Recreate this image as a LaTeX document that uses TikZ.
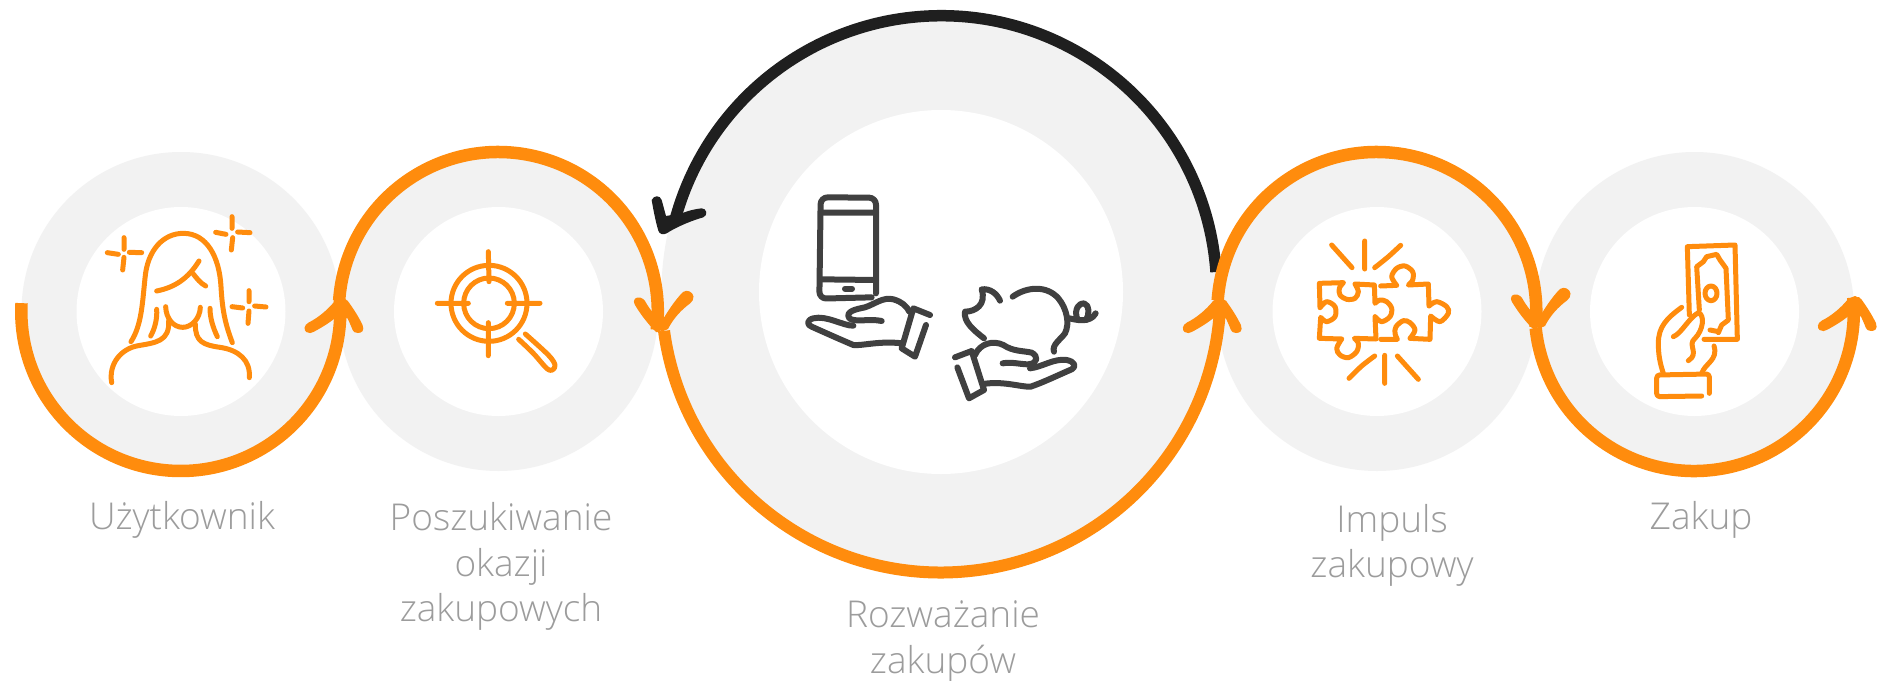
\documentclass[tikz,border=0pt]{standalone}
\usepackage{fontspec}
\setmainfont{Open Sans}[UprightFont=* Light]
\definecolor{orangeC}{HTML}{FF8C0D}
\definecolor{grayC}{HTML}{F2F2F2}
\definecolor{darkC}{HTML}{1F1F1F}
\definecolor{iconC}{HTML}{404040}
\definecolor{textC}{HTML}{9C9C9C}
\tikzset{
  ring/.style={circle,fill=grayC,inner sep=0pt,minimum size=#1},
  hole/.style={circle,fill=white,inner sep=0pt,minimum size=#1},
  arcor/.style={draw=orangeC,line width=12.5pt},
  arcbig/.style={draw=orangeC,line width=12pt},
  arcdark/.style={draw=darkC,line width=11.5pt},
  lab/.style={text=textC,align=center,font=\fontsize{37}{45.5}\selectfont,inner sep=0pt},
  icono/.style={draw=orangeC,line width=5pt,line cap=round,line join=round},
  icond/.style={draw=iconC,line width=6pt,line cap=round,line join=round},
  zoomed/.style={x=0.33333pt,y=-0.33333pt},
  uphead/.pic={
    \fill[orangeC] (0,-2) -- (-6.7,0.7) .. controls (-14,10) and (-24,18) .. (-33,22.5)
      .. controls (-38,25) and (-38,30) .. (-35.5,32)
      .. controls (-33,34) and (-30,33) .. (-27.7,31.7)
      .. controls (-19,27) and (-11,22) .. (-5,16.7) -- (0,18) -- cycle;
    \fill[orangeC] (0,-2) -- (5.9,0.7) .. controls (12,9) and (17,17) .. (20.9,25)
      .. controls (23,31) and (20,33) .. (16,33)
      .. controls (13,33) and (11.5,31.5) .. (10.9,30)
      .. controls (9,25) and (7.5,22) .. (5.9,18.3) -- (0,18) -- cycle;
  },
  downhead/.pic={
    \fill[orangeC] (2,2) -- (-3,2) .. controls (-11,-6) and (-18,-15) .. (-24,-25)
      .. controls (-27,-31) and (-23,-33) .. (-19,-32.5)
      .. controls (-16,-32) and (-15,-30) .. (-14,-29)
      .. controls (-10,-22) and (-7,-18) .. (-3,-14) -- cycle;
    \fill[orangeC] (0,-4) .. controls (7,-16) and (15,-29) .. (24,-38)
      .. controls (28,-41) and (34,-38) .. (34.5,-33.5)
      .. controls (35,-31) and (33,-28) .. (31,-26.5)
      .. controls (22,-20) and (14,-11) .. (9,-1) -- (2,2) -- cycle;
  },
  darkhead/.pic={
    \fill[darkC] (35,60) .. controls (42,45) and (60,45) .. (65,60) -- (78,108) -- (125,100)
      .. controls (145,92) and (165,87) .. (185,85)
      .. controls (200,85) and (205,105) .. (190,112)
      .. controls (160,120) and (110,140) .. (80,160)
      .. controls (70,165) and (58,163) .. (55,152)
      .. controls (47,125) and (40,90) .. (35,60) -- cycle;
  }
}
\newcommand{\sm}[1]{plot[smooth,tension=0.55] coordinates {#1}}
\begin{document}
\begin{tikzpicture}[x=1pt,y=-1pt]
\useasboundingbox (0,0) rectangle (1878,680);
\fill[white] (0,0) rectangle (1878,680);
% rings
\node[ring=319pt] (g1) at (181,311.5) {};
\node[ring=319pt] (g2) at (498.5,311.5) {};
\node[ring=319pt] (g4) at (1377,311.5) {};
\node[ring=319pt] (g5) at (1694.5,311.5) {};
\node[ring=559pt] (g3) at (941,292) {};
\node[hole=209pt] (h1) at (g1) {};
\node[hole=209pt] (h2) at (g2) {};
\node[hole=209pt] (h4) at (g4) {};
\node[hole=209pt] (h5) at (g5) {};
\node[hole=364pt] (h3) at (g3) {};
% dark arc
\coordinate (dstart) at (1216,272);
\coordinate (dhead) at (640,180);
\draw[arcdark] (dstart) arc[start angle=-4,end angle=-165,radius=275.5];
\begin{scope}[shift={(dhead)},zoomed]
\pic at (0,0) {darkhead};
\end{scope}
% big orange arc
\draw[arcbig] (g3.-172.2) arc[start angle=172.2,end angle=1.6,radius=279.5];
% small arcs
\draw[arcor] (g1.177) arc[start angle=183,end angle=-4.2,radius=159.5];
\draw[arcor] (g2.176) arc[start angle=184,end angle=366.6,radius=159.5];
\draw[arcor] (g4.176) arc[start angle=184,end angle=365.7,radius=159.5];
\draw[arcor] (g5.-174) arc[start angle=174,end angle=-5,radius=159.5];
% heads
\coordinate (t1) at (341.7,300);
\coordinate (t2) at (659,330);
\coordinate (t3) at (1220,300);
\coordinate (t4) at (1536,327);
\coordinate (t5) at (1855,298);
\pic at (t1) {uphead};
\pic at (t2) {downhead};
\pic at (t3) {uphead};
\pic at (t4) {downhead};
\pic at (t5) {uphead};
% woman
\begin{scope}[shift={(60,200)},zoomed]
\draw[icono] (213,425) .. controls (245,375) and (247,310) .. (255,235) .. controls (262,150) and (310,100) .. (370,100) .. controls (440,100) and (478,170) .. (483,260) .. controls (487,330) and (495,370) .. (517,428);
\draw[icono] (290,273) .. controls (345,262) and (385,235) .. (417,183);
\draw[icono] (400,222) .. controls (410,235) and (422,250) .. (437,258);
\draw[icono] (290,328) .. controls (292,355) and (285,385) .. (272,408);
\draw[icono] (450,325) .. controls (450,355) and (460,385) .. (472,410);
\draw[icono] (317,320) .. controls (318,355) and (340,382) .. (368,382) .. controls (395,382) and (420,355) .. (421,322);
\draw[icono] (155,548) .. controls (145,490) and (185,445) .. (235,437) .. controls (285,428) and (330,425) .. (326,362);
\draw[icono] (568,533) .. controls (572,480) and (535,450) .. (480,442) .. controls (430,435) and (405,425) .. (406,372);
\draw[icono] (192,113)--(192,148) (192,172)--(188,210) (142,158)--(175,163) (208,157)--(245,158);
\draw[icono] (516,50)--(516,85) (518,113)--(514,150) (467,97)--(498,103) (533,96)--(570,98);
\draw[icono] (567,272)--(567,305) (567,333)--(564,370) (516,320)--(548,324) (584,318)--(618,321);
\end{scope}
% target
\begin{scope}[shift={(420,240)},zoomed]
\draw[icono] (207,190) circle[radius=114];
\draw[icono] (207,190) circle[radius=76];
\draw[icono] (205,35)--(207,125) (205,248)--(205,347) (52,190)--(145,190) (262,190)--(360,190);
\draw[icono] \sm{(296,298)(340,340)(380,385)(397,390)(405,375)(385,345)(316,282)};
\end{scope}
% phone, hands, pig
\begin{scope}[shift={(790,180)},zoomed]
\draw[icond,rounded corners=7pt] (258,340)--(258,53)--(92,52)--(88,356)--(245,352);
\draw[icond] (95,98)--(258,98) (92,298)--(258,300);
\draw[icond] (165,326)--(186,326);
\draw[icond] (275,423) .. controls (240,415) and (195,428) .. (178,415) .. controls (165,395) and (195,388) .. (225,382) .. controls (255,372) and (280,350) .. (310,358) .. controls (335,365) and (350,378) .. (358,395);
\draw[icond] (190,437) .. controls (160,438) and (110,405) .. (70,415) .. controls (50,420) and (50,435) .. (65,440) .. controls (105,458) and (150,478) .. (190,495) .. controls (215,498) and (270,482) .. (335,490);
\draw[icond] (420,405)--(370,385)--(335,505)--(375,530)--(408,435);
\draw[icond] (555,525) .. controls (570,490) and (610,480) .. (640,495) .. controls (670,515) and (700,512) .. (725,518) .. controls (745,528) and (745,550) .. (715,553) .. controls (690,553) and (665,545) .. (638,550);
\draw[icond] (720,565) .. controls (760,560) and (790,535) .. (830,540) .. controls (855,545) and (860,560) .. (845,568) .. controls (805,585) and (765,605) .. (722,620) .. controls (695,622) and (640,602) .. (580,612);
\draw[icond] (495,532)--(545,513)--(582,630)--(537,655)--(502,562);
\draw[icond] (582,475) .. controls (550,450) and (520,425) .. (525,395) .. controls (555,395) and (590,375) .. (575,328) .. controls (600,325) and (620,340) .. (630,362);
\draw[icond] (668,350) .. controls (710,320) and (770,315) .. (805,355) .. controls (830,385) and (840,430) .. (825,460) .. controls (810,480) and (785,495) .. (792,515);
\draw[icond] (838,415) .. controls (860,420) and (900,430) .. (917,400);
\draw[icond] (862,418) .. controls (850,385) and (870,368) .. (882,370) .. controls (900,375) and (898,405) .. (888,420);
\end{scope}
% puzzle
\begin{scope}[shift={(1290,220)},zoomed]
\draw[icono] (160,188)--(88,190)--(90,263) \sm{(90,263)(110,245)(135,260)(135,290)(110,305)(92,292)} --(88,355)--(155,357)
  \sm{(155,357)(140,385)(150,405)(175,413)(200,395)(205,370)(193,355)} --(258,357)--(255,290)
  \sm{(255,290)(275,305)(300,290)(305,265)(290,245)(270,240)(255,250)} --(253,195)--(195,192)
  \sm{(195,192)(205,215)(195,235)(170,238)(150,225)(148,205)(160,188)};
\draw[icono] (272,198)--(320,196) \sm{(320,196)(305,170)(320,145)(345,138)(368,155)(368,180)(355,195)} --(415,192)--(417,258)
  \sm{(417,258)(440,245)(470,260)(475,280)(450,305)(422,288)} --(420,358)--(360,355)
  \sm{(360,355)(375,330)(360,308)(340,302)(318,320)(315,340)(322,358)} --(272,358);
\draw[icono] (125,75)--(186,143) (224,63)--(224,147) (322,408)--(385,478) (284,406)--(284,490);
\draw[icono] \sm{(332,76)(295,110)(254,143)};
\draw[icono] \sm{(254,408)(215,438)(177,475)};
\end{scope}
% money
\begin{scope}[shift={(1600,230)},zoomed]
\draw[icono] (268,255)--(262,50)--(405,45)--(412,328)--(312,328);
\draw[icono] (298,240) -- (290,110) -- (310,95) -- (320,80) -- (350,73) -- (360,90) -- (378,115) -- (385,270) -- (365,285) -- (355,308);
\draw[icono] (330,300)--(355,305);
\draw[icono] (333,190) ellipse[x radius=18,y radius=22];
\draw[icono] (245,232) .. controls (200,265) and (175,290) .. (175,340) .. controls (175,375) and (180,400) .. (190,430);
\draw[icono] (220,320) .. controls (245,310) and (265,265) .. (295,248) .. controls (315,255) and (310,300) .. (285,325) .. controls (260,345) and (300,370) .. (265,392);
\draw[icono] (342,348) .. controls (355,390) and (315,400) .. (305,430);
\draw[icono,rounded corners=3pt] (305,498)--(170,500)--(170,435)--(328,432)--(328,490);
\end{scope}
% labels
\node[lab] (l1) at (182,520) {Użytkownik};
\node[lab] (l2) at (501,566.5) {Poszukiwanie\\okazji\\zakupowych};
\node[lab] (l3) at (943,641.5) {Rozważanie\\zakupów};
\node[lab] (l4) at (1392,545.5) {Impuls\\zakupowy};
\node[lab] (l5) at (1701,520) {Zakup};
\end{tikzpicture}
\end{document}
